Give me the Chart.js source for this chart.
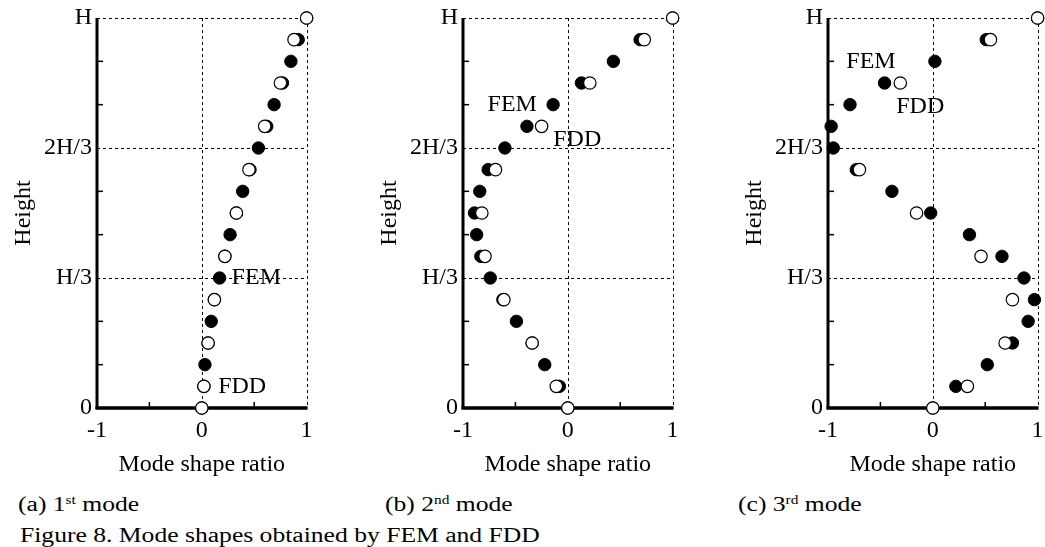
<!DOCTYPE html>
<html lang="en">
<head>
<meta charset="UTF-8">
<title>Mode shapes obtained by FEM and FDD</title>
<script src="https://cdn.jsdelivr.net/npm/chart.js@4.4.0/dist/chart.umd.min.js"></script>
<style>
    body {
        margin: 0;
        background: #fff;
        overflow: hidden;
        font-family: 'Liberation Serif', 'Times New Roman', serif;
    }
    .page { position: relative; width: 1045px; height: 547px; }
    .panel { position: absolute; top: 0; }
    .cap {
        position: absolute;
        font-size: 20px;
        line-height: 20px;
        color: #000;
        white-space: nowrap;
        transform: scaleX(1.28);
        transform-origin: 0 0;
    }
    .cap sup { font-size: 12px; vertical-align: 7px; line-height: 0; }
</style>
</head>
<body>
<div class="page">
    <canvas class="panel" id="mode1" width="314" height="480" style="left:0px"></canvas>
    <canvas class="panel" id="mode2" width="314" height="480" style="left:366px"></canvas>
    <canvas class="panel" id="mode3" width="314" height="480" style="left:731px"></canvas>

    <div class="cap" style="left:18px;top:494px">(a) 1<sup>st</sup> mode</div>
    <div class="cap" style="left:385px;top:494px">(b) 2<sup>nd</sup> mode</div>
    <div class="cap" style="left:738px;top:494px">(c) 3<sup>rd</sup> mode</div>
    <div class="cap" style="left:20px;top:525px">Figure 8. Mode shapes obtained by FEM and FDD</div>
</div>

<script>
    // storey levels, in units of H/18
    const levels = [0, 1, 2, 3, 4, 5, 6, 7, 8, 9, 10, 11, 12, 13, 14, 15, 16, 17, 18];
    const heightTicks = ['0', 'H/3', '2H/3', 'H'];

    // 1st mode
    const fem1 = [0, 0.02, 0.03, 0.06, 0.09, 0.12, 0.17, 0.22, 0.27, 0.33, 0.39, 0.46, 0.54, 0.62, 0.69, 0.77, 0.85, 0.92, 1.0];
    const fdd1 = [0, 0.02, null, 0.06, null, 0.12, null, 0.22, null, 0.33, null, 0.45, null, 0.60, null, 0.75, null, 0.88, 1.0];

    // 2nd mode
    const fem2 = [0, -0.08, -0.22, -0.34, -0.49, -0.62, -0.74, -0.83, -0.87, -0.89, -0.84, -0.76, -0.60, -0.39, -0.14, 0.13, 0.435, 0.69, 1.0];
    const fdd2 = [0, -0.11, null, -0.34, null, -0.61, null, -0.79, null, -0.82, null, -0.69, null, -0.25, null, 0.21, null, 0.73, 1.0];

    // 3rd mode
    const fem3 = [0, 0.22, 0.52, 0.76, 0.91, 0.97, 0.87, 0.66, 0.35, -0.02, -0.39, -0.73, -0.95, -0.97, -0.79, -0.46, 0.02, 0.51, 1.0];
    const fdd3 = [0, 0.33, null, 0.69, null, 0.76, null, 0.46, null, -0.155, null, -0.70, null, null, null, -0.31, null, 0.55, 1.0];

    const font = { family: "'Liberation Serif', 'Times New Roman', serif", size: 24 };

    function toPoints(vals) {
        return vals.map((v, i) => v === null ? null : { x: v, y: levels[i] }).filter(p => p);
    }

    // dashed grid, thick left/bottom axes and the small inner ticks
    const framePlugin = {
        id: 'frame',
        beforeDatasetsDraw(chart) {
            const { ctx, chartArea: { left, right, top, bottom }, scales: { x, y } } = chart;
            const line = (x1, y1, x2, y2) => { ctx.beginPath(); ctx.moveTo(x1, y1); ctx.lineTo(x2, y2); ctx.stroke(); };
            ctx.save();
            ctx.strokeStyle = '#000';
            ctx.lineWidth = 1;
            ctx.setLineDash([3, 3]);
            [0, 1].forEach(v => {
                const px = Math.round(x.getPixelForValue(v)) + 0.5;
                line(px, top, px, bottom);
            });
            [6, 12, 18].forEach(v => {
                const py = Math.round(y.getPixelForValue(v)) + 0.5;
                line(left, py, right, py);
            });
            ctx.setLineDash([]);
            ctx.lineWidth = 1.5;
            [2, 4, 8, 10, 14, 16].forEach(v => {
                const py = y.getPixelForValue(v);
                line(left, py, left + 6, py);
            });
            [-0.5, 0.5].forEach(v => {
                const px = x.getPixelForValue(v);
                line(px, bottom, px, bottom - 6);
            });
            ctx.lineWidth = 3;
            line(left, top, left, bottom + 1);
            ctx.lineWidth = 3.5;
            line(left - 1.5, bottom, right + 1, bottom);
            ctx.restore();
        }
    };

    // "FEM" / "FDD" notes placed in data units
    const notePlugin = {
        id: 'notes',
        afterDatasetsDraw(chart, args, opts) {
            const { ctx, scales: { x, y } } = chart;
            ctx.save();
            ctx.font = `${font.size}px ${font.family}`;
            ctx.fillStyle = '#000';
            ctx.textAlign = 'center';
            ctx.textBaseline = 'middle';
            opts.items.forEach(n => ctx.fillText(n.text, x.getPixelForValue(n.x), y.getPixelForValue(n.y)));
            ctx.restore();
        }
    };

    function makeChart(id, fem, fdd, notes) {
        return new Chart(document.getElementById(id), {
            type: 'scatter',
            data: {
                datasets: [
                    {
                        label: 'FDD',
                        data: toPoints(fdd),
                        pointRadius: 6.2,
                        pointBackgroundColor: '#fff',
                        pointBorderColor: '#000',
                        pointBorderWidth: 1.2,
                        clip: false
                    },
                    {
                        label: 'FEM',
                        data: toPoints(fem),
                        pointRadius: 6.2,
                        pointBackgroundColor: '#000',
                        pointBorderColor: '#000',
                        pointBorderWidth: 1,
                        clip: false
                    }
                ]
            },
            options: {
                responsive: false,
                animation: false,
                events: [],
                layout: { padding: { top: 18, right: 7, left: 0, bottom: 0 } },
                plugins: {
                    legend: { display: false },
                    tooltip: { enabled: false },
                    notes: { items: notes }
                },
                scales: {
                    x: {
                        type: 'linear',
                        min: -1,
                        max: 1,
                        ticks: { stepSize: 1, font: font, color: '#000', padding: 8, maxRotation: 0 },
                        grid: { display: false, drawTicks: false },
                        border: { display: false },
                        title: { display: true, text: 'Mode shape ratio', font: font, color: '#000', padding: { top: 0, bottom: 1 } },
                        afterFit: s => { s.height = 72; s.paddingLeft = 0; s.paddingRight = 0; }
                    },
                    y: {
                        min: 0,
                        max: 18,
                        ticks: { stepSize: 6, font: font, color: '#000', padding: 5, callback: v => heightTicks[v / 6] },
                        grid: { display: false, drawTicks: false },
                        border: { display: false },
                        title: { display: true, text: 'Height', font: font, color: '#000', padding: { top: 9, bottom: 0 } },
                        afterFit: s => { s.width = 97; s.paddingTop = 0; s.paddingBottom = 0; }
                    }
                }
            },
            plugins: [framePlugin, notePlugin]
        });
    }

    makeChart('mode1', fem1, fdd1, [
        { text: 'FEM', x: 0.52, y: 6 },
        { text: 'FDD', x: 0.385, y: 1 }
    ]);
    makeChart('mode2', fem2, fdd2, [
        { text: 'FEM', x: -0.53, y: 14 },
        { text: 'FDD', x: 0.09, y: 12.4 }
    ]);
    makeChart('mode3', fem3, fdd3, [
        { text: 'FEM', x: -0.59, y: 16 },
        { text: 'FDD', x: -0.12, y: 13.9 }
    ]);
</script>
</body>
</html>
